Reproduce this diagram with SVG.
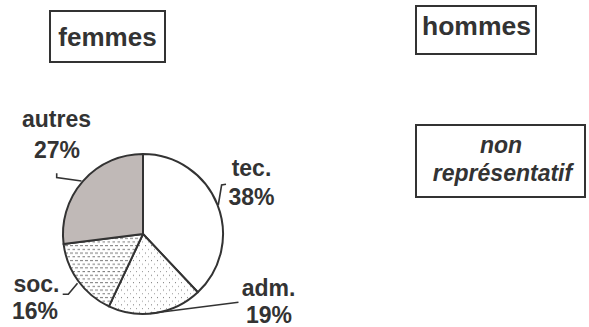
<svg xmlns="http://www.w3.org/2000/svg" width="589" height="327" viewBox="0 0 589 327">
<style>
.box{fill:#fff;stroke:#333;stroke-width:2}
.t{font-family:"Liberation Sans",Arial,sans-serif;font-weight:bold;fill:#333;text-anchor:middle}
.sl{stroke:#333;stroke-width:2;stroke-linejoin:round}
.ld{fill:none;stroke:#333;stroke-width:1.6}
</style>
<defs>
<pattern id="dash" width="5" height="7.4" patternUnits="userSpaceOnUse">
<rect width="5" height="7.4" fill="#fff"/>
<rect x="0" y="1" width="3" height="1" fill="#777"/>
<rect x="2.5" y="4.7" width="3" height="1" fill="#777"/>
</pattern>
<pattern id="dots" width="6" height="7.4" patternUnits="userSpaceOnUse">
<rect width="6" height="7.4" fill="#fff"/>
<rect x="1" y="1" width="1" height="1" fill="#777"/>
<rect x="4" y="4.7" width="1" height="1" fill="#999"/>
</pattern>
</defs>
<rect width="589" height="327" fill="#fff"/>
<g id="femmes">
<rect class="box" x="50" y="11" width="115" height="51"/>
<text class="t" x="107.5" y="45.5" font-size="26">femmes</text>
</g>
<g id="hommes">
<rect class="box" x="416" y="6" width="120" height="48"/>
<text class="t" x="476.5" y="35" font-size="26.5">hommes</text>
</g>
<g id="non-representatif">
<rect class="box" x="416" y="125" width="169" height="72"/>
<text class="t" x="501" y="153" font-size="23" font-style="italic">non</text>
<text class="t" x="502.5" y="181" font-size="23" font-style="italic">représentatif</text>
</g>
<g id="pie">
<path id="tec" class="sl" fill="#fff" d="M143,234 L143,154 A80,80 0 0 1 197.8,292.3 Z"/>
<path id="adm" class="sl" fill="url(#dots)" d="M143,234 L197.8,292.3 A80,80 0 0 1 108.9,306.4 Z"/>
<path id="soc" class="sl" fill="url(#dash)" d="M143,234 L108.9,306.4 A80,80 0 0 1 63.6,244 Z"/>
<path id="autres" class="sl" fill="#c0b9b7" d="M143,234 L63.6,244 A80,80 0 0 1 143,154 Z"/>
</g>
<g id="connectors">
<polyline class="ld" points="56.7,173.3 56.7,177.5 81.5,181"/>
<polyline class="ld" points="226,184.2 221.6,185 218.3,205"/>
<polyline class="ld" points="77.5,283.3 68.3,294.3 62.7,294.3"/>
<polyline class="ld" points="150,313.5 238.5,302.3"/>
</g>
<g id="labels">
<text class="t" x="56.5" y="127.3" font-size="23">autres</text>
<text class="t" x="57" y="158.3" font-size="23">27%</text>
<text class="t" x="251.5" y="176" font-size="23">tec.</text>
<text class="t" x="251.5" y="205" font-size="23">38%</text>
<text class="t" x="36.5" y="292.3" font-size="23">soc.</text>
<text class="t" x="35" y="319" font-size="23">16%</text>
<text class="t" x="268.5" y="296" font-size="23">adm.</text>
<text class="t" x="269" y="322.5" font-size="23">19%</text>
</g>
</svg>
